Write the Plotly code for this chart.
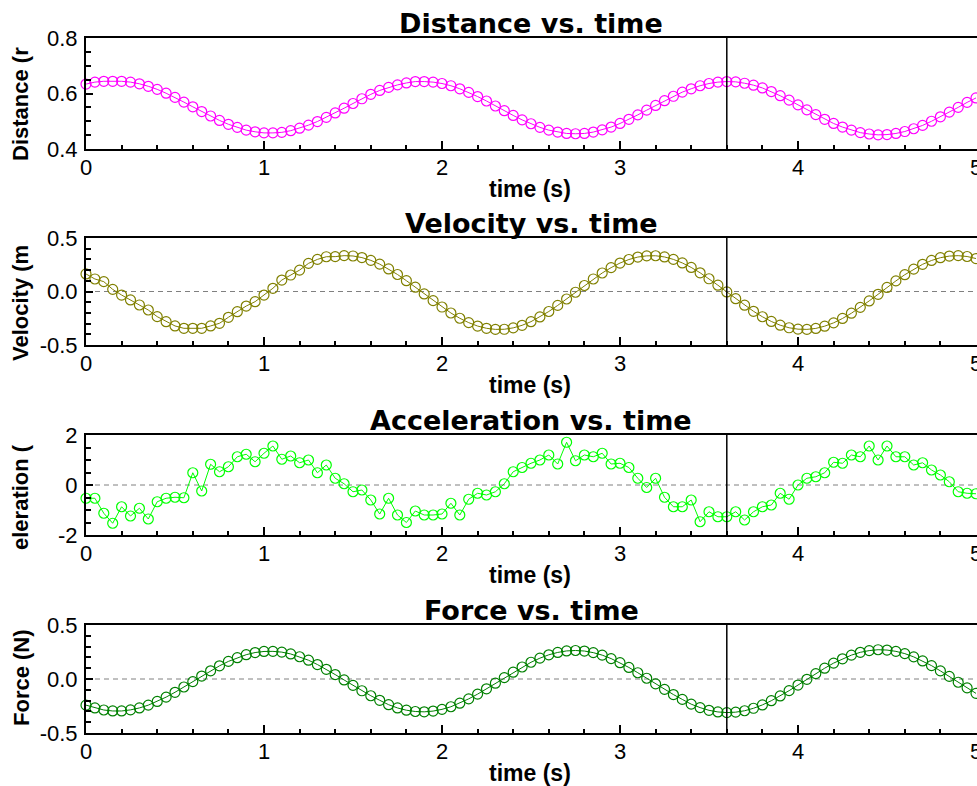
import plotly.graph_objects as go

# ---------------- data ----------------
time_s = [
    0.00, 0.05, 0.10, 0.15, 0.20, 0.25, 0.30, 0.35, 0.40, 0.45,
    0.50, 0.55, 0.60, 0.65, 0.70, 0.75, 0.80, 0.85, 0.90, 0.95,
    1.00, 1.05, 1.10, 1.15, 1.20, 1.25, 1.30, 1.35, 1.40, 1.45,
    1.50, 1.55, 1.60, 1.65, 1.70, 1.75, 1.80, 1.85, 1.90, 1.95,
    2.00, 2.05, 2.10, 2.15, 2.20, 2.25, 2.30, 2.35, 2.40, 2.45,
    2.50, 2.55, 2.60, 2.65, 2.70, 2.75, 2.80, 2.85, 2.90, 2.95,
    3.00, 3.05, 3.10, 3.15, 3.20, 3.25, 3.30, 3.35, 3.40, 3.45,
    3.50, 3.55, 3.60, 3.65, 3.70, 3.75, 3.80, 3.85, 3.90, 3.95,
    4.00, 4.05, 4.10, 4.15, 4.20, 4.25, 4.30, 4.35, 4.40, 4.45,
    4.50, 4.55, 4.60, 4.65, 4.70, 4.75, 4.80, 4.85, 4.90, 4.95,
    5.00,
]

distance_m = [
    0.634, 0.641, 0.644, 0.644, 0.644, 0.641, 0.635, 0.626, 0.615, 0.601,
    0.586, 0.569, 0.552, 0.535, 0.519, 0.503, 0.489, 0.478, 0.468, 0.462,
    0.458, 0.458, 0.460, 0.466, 0.475, 0.486, 0.499, 0.514, 0.530, 0.547,
    0.564, 0.581, 0.597, 0.611, 0.622, 0.631, 0.638, 0.643, 0.643, 0.641,
    0.636, 0.628, 0.617, 0.604, 0.589, 0.573, 0.555, 0.538, 0.521, 0.505,
    0.491, 0.478, 0.468, 0.461, 0.456, 0.455, 0.456, 0.461, 0.469, 0.479,
    0.492, 0.507, 0.523, 0.540, 0.557, 0.574, 0.590, 0.605, 0.617, 0.628,
    0.636, 0.641, 0.643, 0.642, 0.637, 0.630, 0.620, 0.607, 0.592, 0.576,
    0.559, 0.541, 0.524, 0.507, 0.492, 0.479, 0.468, 0.459, 0.454, 0.451,
    0.452, 0.456, 0.463, 0.473, 0.485, 0.500, 0.516, 0.533, 0.550, 0.568,
    0.584,
]

velocity_ms = [
    0.164, 0.117, 0.092, 0.020, -0.033, -0.079, -0.126, -0.173, -0.235, -0.282,
    -0.322, -0.344, -0.344, -0.344, -0.322, -0.297, -0.241, -0.189, -0.136, -0.095,
    -0.033, 0.030, 0.107, 0.154, 0.200, 0.263, 0.300, 0.325, 0.326, 0.335,
    0.332, 0.317, 0.291, 0.256, 0.211, 0.159, 0.101, 0.040, -0.023, -0.085,
    -0.145, -0.201, -0.250, -0.291, -0.323, -0.344, -0.354, -0.353, -0.340, -0.316,
    -0.282, -0.238, -0.187, -0.130, -0.070, -0.007, 0.056, 0.117, 0.173, 0.223,
    0.266, 0.299, 0.322, 0.333, 0.334, 0.323, 0.300, 0.267, 0.225, 0.175,
    0.119, 0.059, -0.004, -0.067, -0.128, -0.185, -0.236, -0.280, -0.315, -0.339,
    -0.352, -0.354, -0.345, -0.324, -0.293, -0.252, -0.203, -0.148, -0.088, -0.026,
    0.038, 0.099, 0.157, 0.209, 0.254, 0.290, 0.316, 0.331, 0.335, 0.327,
    0.308,
]

acceleration_ms2 = [
    -0.53, -0.53, -1.13, -1.53, -0.87, -1.24, -0.93, -1.36, -0.67, -0.53,
    -0.49, -0.51, 0.49, -0.24, 0.83, 0.53, 0.73, 1.13, 1.23, 0.93,
    1.27, 1.56, 1.03, 1.16, 0.89, 1.00, 0.49, 0.80, 0.27, 0.05,
    -0.27, -0.20, -0.60, -1.16, -0.53, -1.20, -1.50, -1.04, -1.20, -1.20,
    -1.16, -0.73, -1.20, -0.57, -0.33, -0.40, -0.27, 0.05, 0.53, 0.70,
    0.87, 1.00, 1.20, 0.84, 1.71, 0.97, 1.20, 1.13, 1.27, 0.84,
    0.87, 0.70, 0.27, -0.10, 0.27, -0.49, -0.87, -0.87, -0.60, -1.47,
    -1.07, -1.27, -1.27, -1.07, -1.40, -1.07, -0.87, -0.80, -0.33, -0.57,
    0.00, 0.27, 0.33, 0.49, 0.91, 0.87, 1.20, 1.13, 1.56, 1.00,
    1.56, 1.13, 1.13, 0.80, 0.89, 0.60, 0.40, 0.13, -0.27, -0.33,
    -0.35,
]

force_N = [
    -0.242, -0.268, -0.287, -0.296, -0.296, -0.286, -0.268, -0.242, -0.208, -0.168,
    -0.123, -0.074, -0.024, 0.027, 0.076, 0.122, 0.163, 0.197, 0.225, 0.245,
    0.255, 0.256, 0.249, 0.232, 0.206, 0.174, 0.134, 0.090, 0.041, -0.009,
    -0.059, -0.109, -0.155, -0.197, -0.238, -0.268, -0.289, -0.301, -0.304, -0.297,
    -0.281, -0.257, -0.224, -0.184, -0.140, -0.091, -0.039, 0.013, 0.063, 0.111,
    0.155, 0.193, 0.224, 0.246, 0.260, 0.264, 0.259, 0.244, 0.221, 0.189,
    0.151, 0.107, 0.058, 0.007, -0.045, -0.096, -0.144, -0.189, -0.233, -0.265,
    -0.290, -0.305, -0.311, -0.307, -0.294, -0.271, -0.240, -0.201, -0.157, -0.108,
    -0.056, -0.003, 0.050, 0.100, 0.147, 0.187, 0.221, 0.247, 0.263, 0.271,
    0.268, 0.256, 0.235, 0.205, 0.167, 0.124, 0.075, 0.024, -0.030, -0.082,
    -0.133,
]

panel_titles = ["Distance vs. time", "Velocity vs. time", "Acceleration vs. time", "Force vs. time"]
y_titles = ["Distance (r", "Velocity (m", "eleration (", "Force (N)"]
x_title = "time (s)"
x_tickvals = [0, 1, 2, 3, 4, 5]
x_ticktext = ["0", "1", "2", "3", "4", "5"]
y_ranges = [[0.4, 0.8], [-0.5, 0.5], [-2, 2], [-0.5, 0.5]]
y_tickvals = [[0.4, 0.6, 0.8], [-0.5, 0.0, 0.5], [-2, 0, 2], [-0.5, 0.0, 0.5]]
y_ticktext = [["0.4", "0.6", "0.8"], ["-0.5", "0.0", "0.5"], ["-2", "0", "2"], ["-0.5", "0.0", "0.5"]]
y_minor_dtick = [0.05, 0.1, 0.5, 0.1]
cursor_time = 3.6

# ---------------- layout geometry (pixels) ----------------
W, H, L = 977, 786, 86
panels_px = [(38, 149), (238, 345), (435, 535), (625, 733)]   # (top, bottom)
y_title_center_px = [104, 303, 497, 678]
colors = ["#FF00FF", "#808000", "#00FF00", "#008000"]
series = [distance_m, velocity_ms, acceleration_ms2, force_N]


def py(px):
    return 1 - px / H


def px_x(px):
    return (px - L) / (W - L)


TICK_FONT = dict(family="Liberation Sans, Arial, sans-serif", size=22, color="black")
TITLE_FONT = dict(family="DejaVu Sans, sans-serif", size=27, color="black")
AXT_FONT = dict(family="Liberation Sans, Arial, sans-serif", size=23, color="black")

fig = go.Figure()
layout = dict(
    width=W, height=H,
    margin=dict(l=L, r=0, t=0, b=0),
    paper_bgcolor="white", plot_bgcolor="white",
    showlegend=False,
    annotations=[], shapes=[],
)

for i in range(4):
    xa = "x" if i == 0 else f"x{i+1}"
    ya = "y" if i == 0 else f"y{i+1}"
    xkey = "xaxis" if i == 0 else f"xaxis{i+1}"
    ykey = "yaxis" if i == 0 else f"yaxis{i+1}"
    top, bot = panels_px[i]

    fig.add_trace(go.Scatter(
        x=time_s, y=series[i], xaxis=xa, yaxis=ya,
        mode="lines+markers", cliponaxis=False,
        line=dict(color=colors[i], width=1),
        marker=dict(symbol="circle-open", size=10, color=colors[i],
                    line=dict(width=1.2, color=colors[i])),
        hoverinfo="x+y",
    ))

    layout[xkey] = dict(
        domain=[0, 1], anchor=ya, range=[0, (W - L) / 178.0],
        showline=True, linecolor="black", linewidth=2, mirror=True,
        showgrid=False, zeroline=False, automargin=False,
        tickmode="array", tickvals=x_tickvals, ticktext=x_ticktext,
        ticks="inside", ticklen=8, tickwidth=1.5, tickcolor="black",
        tickfont=TICK_FONT, ticklabelstandoff=-2, ticklabeloverflow="allow",
        minor=dict(dtick=0.2, tick0=0, ticks="inside", ticklen=4,
                   tickwidth=1.5, tickcolor="black", showgrid=False),
    )
    layout[ykey] = dict(
        domain=[py(bot), py(top)], anchor=xa, range=y_ranges[i],
        showline=True, linecolor="black", linewidth=2, mirror=False,
        showgrid=False, zeroline=False, automargin=False,
        tickmode="array", tickvals=y_tickvals[i], ticktext=y_ticktext[i],
        ticks="inside", ticklen=7, tickwidth=1.5, tickcolor="black",
        tickfont=TICK_FONT, ticklabelstandoff=2,
        minor=dict(dtick=y_minor_dtick[i], tick0=y_ranges[i][0], ticks="inside",
                   ticklen=5, tickwidth=1.5, tickcolor="black", showgrid=False),
    )

    # panel title
    layout["annotations"].append(dict(
        text="<b>" + panel_titles[i] + "</b>", xref="paper", yref="paper",
        x=px_x(531), y=py(top), xanchor="center", yanchor="bottom", yshift=-3,
        showarrow=False, font=TITLE_FONT,
    ))
    # x-axis title
    layout["annotations"].append(dict(
        text="<b>" + x_title + "</b>", xref="paper", yref="paper",
        x=px_x(530), y=py(bot + 40), xanchor="center", yanchor="middle",
        showarrow=False, font=AXT_FONT,
    ))
    # y-axis title (as seen, clipped in the original)
    layout["annotations"].append(dict(
        text="<b>" + y_titles[i] + "</b>", xref="paper", yref="paper",
        x=px_x(21), y=py(y_title_center_px[i]), xanchor="center", yanchor="middle",
        textangle=-90, showarrow=False,
        font=dict(family="Liberation Sans, Arial, sans-serif", size=22, color="black"),
    ))
    # cursor line
    layout["shapes"].append(dict(
        type="line", xref=xa, yref=f"{ya} domain",
        x0=cursor_time, x1=cursor_time, y0=0, y1=1,
        line=dict(color="black", width=1.5), layer="above",
    ))
    # dashed zero line
    if i > 0:
        layout["shapes"].append(dict(
            type="line", xref=f"{xa} domain", yref=ya,
            x0=0, x1=1, y0=0, y1=0,
            line=dict(color="#808080", width=1, dash="5px,4px"), layer="below",
        ))

fig.update_layout(**layout)
fig.write_html(
    "out.html",
    config={"displayModeBar": False},
    post_script="document.body.style.margin='0px';document.body.style.overflow='hidden';",
)
